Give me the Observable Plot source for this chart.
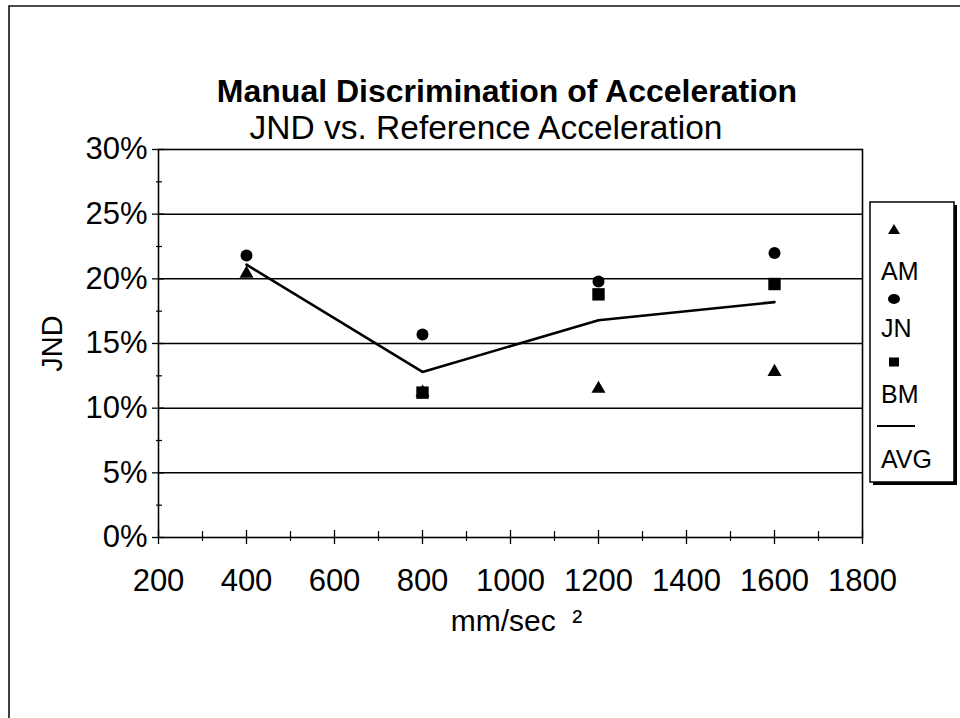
<!DOCTYPE html>
<html>
<head>
<meta charset="utf-8">
<script src="https://cdn.jsdelivr.net/npm/d3@7"></script>
<script src="https://cdn.jsdelivr.net/npm/@observablehq/plot@0.6"></script>
<style>
  html, body { margin: 0; padding: 0; background: #fff; }
  #wrap { position: relative; width: 960px; height: 718px; overflow: hidden; background: #fff; }
  #wrap svg.overlay { position: absolute; left: 0; top: 0; }
  #chart { position: absolute; left: 0; top: 0; }
</style>
</head>
<body>
<div id="wrap"><div id="chart"></div></div>
<script>
// ---- data ----
const accel = [400, 800, 1200, 1600];           // mm/sec^2
const AM  = [0.204, 0.112, 0.115, 0.128];
const JN  = [0.218, 0.157, 0.198, 0.220];
const BM  = [null, 0.112, 0.188, 0.196];
const AVG = [0.211, 0.128, 0.168, 0.182];
const seriesNames = ["AM", "JN", "BM", "AVG"];
const yTicks = [0, 0.05, 0.10, 0.15, 0.20, 0.25, 0.30];
const yMinor = [0.025, 0.075, 0.125, 0.175, 0.225, 0.275];
const yGrid  = [0.05, 0.10, 0.15, 0.20, 0.25];
const xTicks = [200, 400, 600, 800, 1000, 1200, 1400, 1600, 1800];
const xMinor = [300, 500, 700, 900, 1100, 1300, 1500, 1700];
const titleText = "Manual Discrimination of Acceleration";
const subtitleText = "JND vs. Reference Acceleration";
const yLabel = "JND";
const xLabel = "mm/sec  \u00B2";

const rows = accel.map((x, i) => ({x, AM: AM[i], JN: JN[i], BM: BM[i], AVG: AVG[i]}));

const W = 960, H = 718;
const mL = 158, mR = 98, mT = 149, mB = 181;
const fw = W - mL - mR, fh = H - mT - mB;
const FONT = "'Liberation Sans', Arial, Helvetica, sans-serif";

const chart = Plot.plot({
  width: W, height: H,
  marginLeft: mL, marginRight: mR, marginTop: mT, marginBottom: mB,
  style: {fontFamily: FONT, fontSize: "31px", color: "#000", background: "transparent", overflow: "visible"},
  x: {domain: [200, 1800]},
  y: {domain: [0, 0.30]},
  marks: [
    Plot.ruleY(yGrid, {stroke: "#000", strokeWidth: 1.5}),
    Plot.frame({stroke: "#000", strokeWidth: 1.6}),
    // y ticks (crossing the axis)
    Plot.tickY(yTicks, {y: d => d, insetRight: fw - 12, dx: -6, stroke: "#000", strokeWidth: 1.3}),
    Plot.tickY(yMinor, {y: d => d, insetRight: fw - 6, dx: -2, stroke: "#000", strokeWidth: 1.2}),
    // x ticks (crossing the axis)
    Plot.tickX(xTicks, {x: d => d, insetTop: fh - 14, dy: 7, stroke: "#000", strokeWidth: 1.3}),
    Plot.tickX(xMinor, {x: d => d, insetTop: fh - 10, dy: 4, stroke: "#000", strokeWidth: 1.2}),
    Plot.axisY({ticks: yTicks, tickFormat: d3.format(".0%"), tickSize: 0, tickPadding: 11, label: null, fontSize: 31, fill: "#000"}),
    Plot.axisX({ticks: xTicks, tickFormat: d => String(d), tickSize: 0, tickPadding: 31, label: null, fontSize: 31, fill: "#000"}),
    Plot.text([yLabel], {frameAnchor: "left", textAnchor: "middle", lineAnchor: "middle", dx: -106, dy: 0, rotate: -90, fontSize: 29, fill: "#000"}),
    Plot.text([xLabel], {frameAnchor: "bottom", textAnchor: "middle", dx: 6, dy: 93, fontSize: 30, fill: "#000"}),
    // data
    Plot.line(rows, {x: "x", y: "AVG", stroke: "#000", strokeWidth: 2.6}),
    Plot.dot(rows, {x: "x", y: "AM", symbol: "triangle", fill: "#000", r: 5.2}),
    Plot.dot(rows, {x: "x", y: "BM", symbol: "square", fill: "#000", r: 7}),
    Plot.dot(rows, {x: "x", y: "JN", symbol: "circle", fill: "#000", r: 6})
  ]
});
document.getElementById("chart").appendChild(chart);

// ---- overlay: border, title, subtitle, legend ----
const svg = d3.select("#wrap").append("svg").attr("class", "overlay")
  .attr("width", W).attr("height", H).style("font-family", FONT);

svg.append("path").attr("d", `M9,${H}V6H${W}`).attr("fill", "none").attr("stroke", "#111").attr("stroke-width", 1.6);

svg.append("text").attr("x", 507).attr("y", 102).attr("text-anchor", "middle")
  .attr("font-size", 32).attr("font-weight", "bold").attr("fill", "#000").text(titleText);
svg.append("text").attr("x", 486).attr("y", 139).attr("text-anchor", "middle")
  .attr("font-size", 33.5).attr("fill", "#000").text(subtitleText);

const lg = svg.append("g");
lg.append("rect").attr("x", 873).attr("y", 205).attr("width", 84).attr("height", 280).attr("fill", "#000");
lg.append("rect").attr("x", 870).attr("y", 202).attr("width", 84).attr("height", 280)
  .attr("fill", "#fff").attr("stroke", "#000").attr("stroke-width", 1.5);

const lgSym = [
  {name: seriesNames[0], sy: 230, ty: 280},
  {name: seriesNames[1], sy: 299, ty: 337},
  {name: seriesNames[2], sy: 362, ty: 403},
  {name: seriesNames[3], sy: 426, ty: 468}
];
const sx = 894;
lg.append("path").attr("d", `M${sx},${lgSym[0].sy - 6}L${sx + 6},${lgSym[0].sy + 4}L${sx - 6},${lgSym[0].sy + 4}Z`).attr("fill", "#000");
lg.append("ellipse").attr("cx", sx).attr("cy", lgSym[1].sy).attr("rx", 6).attr("ry", 5).attr("fill", "#000");
lg.append("rect").attr("x", sx - 5).attr("y", lgSym[2].sy - 4.5).attr("width", 10).attr("height", 9).attr("fill", "#000");
lg.append("line").attr("x1", 877).attr("x2", 915).attr("y1", lgSym[3].sy).attr("y2", lgSym[3].sy).attr("stroke", "#000").attr("stroke-width", 2);
lgSym.forEach(d => {
  lg.append("text").attr("x", 881).attr("y", d.ty).attr("font-size", 25).attr("fill", "#000").text(d.name);
});
</script>
</body>
</html>
